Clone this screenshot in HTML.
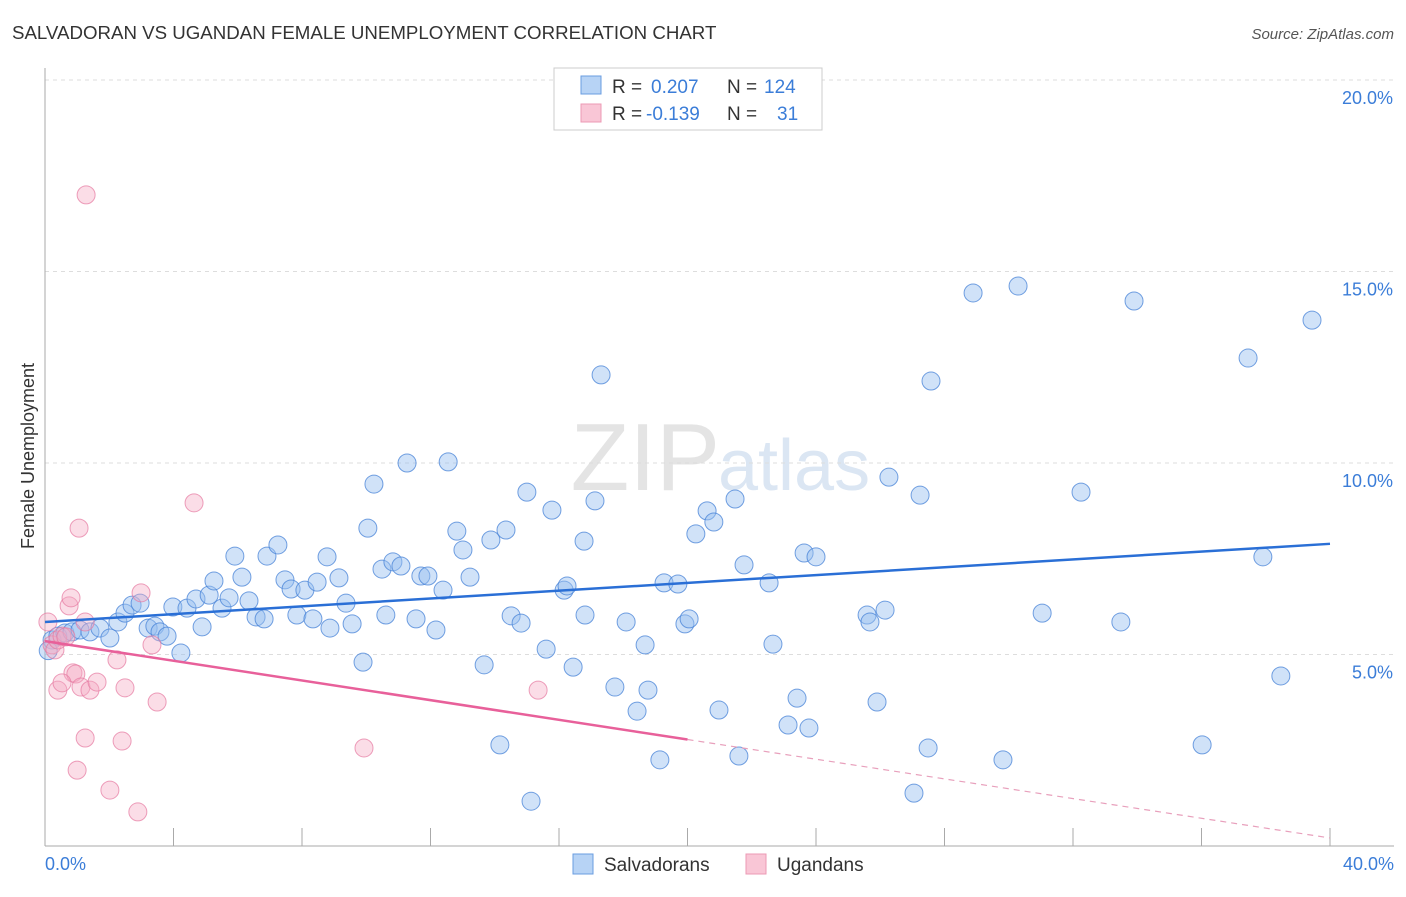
<!DOCTYPE html>
<html><head><meta charset="utf-8"><style>
body{margin:0;background:#fff;font-family:"Liberation Sans",sans-serif;}
svg text{font-family:"Liberation Sans",sans-serif;}
</style></head><body>
<svg id="c" width="1406" height="892" xmlns="http://www.w3.org/2000/svg">
<text x="12" y="39" font-size="18.7" fill="#333">SALVADORAN VS UGANDAN FEMALE UNEMPLOYMENT CORRELATION CHART</text>
<text x="1394" y="39" font-size="15" fill="#555" text-anchor="end" font-style="italic">Source: ZipAtlas.com</text>
<text x="720" y="490" font-size="96" fill="#e4e4e4" text-anchor="end" font-family="Liberation Serif">ZIP</text>
<text x="718" y="490" font-size="72" fill="#dbe6f3">atlas</text>
<g id="grid"></g><g id="axes"></g><g id="pts"></g><g id="lines"></g>
<text transform="translate(34,456) rotate(-90)" font-size="18" fill="#333" text-anchor="middle">Female Unemployment</text>
<text x="45" y="870" font-size="18" fill="#3b7dd8">0.0%</text>
<text x="1394" y="870" font-size="18" fill="#3b7dd8" text-anchor="end">40.0%</text>
<g>
<rect x="554" y="68" width="268" height="62" fill="#fff" stroke="#ccc"/>
<rect x="581" y="76" width="20" height="18" fill="#b7d3f5" stroke="#6a9de0"/>
<rect x="581" y="104" width="20" height="18" fill="#f9c6d6" stroke="#ec9ab4"/>
<text x="612" y="93" font-size="19" fill="#333">R = <tspan x="651" fill="#3b7dd8">0.207</tspan><tspan x="727">N = </tspan><tspan x="764" fill="#3b7dd8">124</tspan></text>
<text x="612" y="120" font-size="19" fill="#333">R = <tspan x="646" fill="#3b7dd8">-0.139</tspan><tspan x="727">N = </tspan><tspan x="777" fill="#3b7dd8">31</tspan></text>
</g>
<g><rect x="573" y="854" width="20" height="20" fill="#b7d3f5" stroke="#6a9de0"/><text x="604" y="871" font-size="19" fill="#333">Salvadorans</text></g>
<g><rect x="746" y="854" width="20" height="20" fill="#f9c6d6" stroke="#ec9ab4"/><text x="777" y="871" font-size="19" fill="#333">Ugandans</text></g>
</svg>
<script>
const blueX=[0.22,0.40,0.62,0.84,1.09,1.40,1.71,2.02,2.27,2.49,2.71,2.96,3.21,3.42,3.58,3.80,3.98,4.23,4.42,4.70,4.89,5.11,5.26,5.51,5.73,5.91,6.13,6.35,6.57,6.82,6.91,7.25,7.47,7.66,7.84,8.09,8.34,8.47,8.78,8.87,9.15,9.37,9.56,9.90,10.05,10.24,10.49,10.61,10.83,11.08,11.27,11.55,11.70,11.92,12.17,12.39,12.55,12.82,13.01,13.23,13.67,13.88,14.16,14.35,14.51,14.82,15.00,15.13,15.60,15.78,16.16,16.25,16.44,16.78,16.81,17.12,17.31,17.74,18.09,18.43,18.68,18.77,19.14,19.27,19.70,19.92,20.05,20.26,20.61,20.82,20.98,21.48,21.60,21.76,22.54,22.66,23.13,23.41,23.63,23.78,24.00,25.59,25.68,25.90,26.15,26.27,27.05,27.24,27.49,27.58,28.89,29.82,30.29,31.04,32.25,33.49,33.90,36.02,37.45,37.91,38.47,39.44,0.1];
const blueY=[5.38,5.48,5.56,5.59,5.64,5.59,5.69,5.43,5.85,6.08,6.29,6.34,5.69,5.74,5.59,5.48,6.24,5.04,6.21,6.45,5.72,6.55,6.92,6.21,6.48,7.57,7.02,6.40,5.98,5.93,7.57,7.86,6.95,6.71,6.03,6.68,5.93,6.89,7.55,5.69,7.00,6.34,5.80,4.80,8.30,9.45,7.23,6.03,7.42,7.31,10.00,5.93,7.05,7.05,5.64,6.68,10.03,8.22,7.73,7.02,4.73,7.99,2.64,8.25,6.01,5.82,9.24,1.17,5.14,8.77,6.68,6.79,4.67,7.96,6.03,9.01,12.30,4.15,5.85,3.52,5.25,4.07,2.25,6.87,6.84,5.80,5.93,8.15,8.75,8.46,3.55,9.06,2.35,7.34,6.87,5.27,3.16,3.86,7.65,3.08,7.55,6.03,5.85,3.76,6.16,9.63,1.38,9.16,2.56,12.14,14.44,2.25,14.62,6.08,9.24,5.85,14.23,2.64,12.74,7.55,4.44,13.73,5.1];
const pinkX=[0.09,0.22,0.31,0.40,0.53,0.65,0.75,0.81,0.87,0.96,1.06,1.12,1.25,1.28,0.40,0.53,1.00,1.40,1.62,2.02,2.24,2.40,2.49,2.89,2.99,3.33,3.49,4.64,9.93,15.35,1.25];
const pinkY=[5.85,5.25,5.12,5.38,5.48,5.46,6.27,6.48,4.52,4.49,8.30,4.15,2.82,17.00,4.07,4.26,1.98,4.07,4.28,1.46,4.86,2.74,4.13,0.89,6.61,5.25,3.76,8.96,2.56,4.07,5.85];
const blueTrend=[5.85,7.89];
const pinkTrend=[5.35,0.21];
const yTicks=[5,10,15,20];
const xTicks=[0,4,8,12,16,20,24,28,32,36,40];
const X=v=>45+v/40*1285, Y=v=>846-v*38.3;
const NS="http://www.w3.org/2000/svg";
function mk(t,a,p){const e=document.createElementNS(NS,t);for(const k in a)e.setAttribute(k,a[k]);document.getElementById(p).appendChild(e);return e;}
yTicks.forEach(t=>{
 const l=mk('line',{x1:45,x2:1394,y1:Y(t),y2:Y(t),stroke:'#ddd','stroke-dasharray':'4,4'},'grid');
 
 
 const tx=mk('text',{x:1393,y:Y(t)+24,'font-size':18,fill:'#3b7dd8','text-anchor':'end'},'grid');tx.textContent=t.toFixed(1)+'%';
 
 
});
mk('line',{x1:45,x2:45,y1:68,y2:846,stroke:'#aaa'},'axes');
mk('line',{x1:45,x2:1394,y1:846,y2:846,stroke:'#aaa'},'axes');
xTicks.forEach(t=>{const l=mk('line',{x1:X(t),x2:X(t),y1:828,y2:846,stroke:'#aaa'},'axes');
 
 });
function pts(xs,ys,fill,stroke,name){xs.forEach((x,i)=>{const c=mk('circle',{cx:X(x),cy:Y(ys[i]),r:9,fill:fill,stroke:stroke,'stroke-width':1},'pts');
 
 });}
pts(blueX,blueY,'rgba(150,190,240,0.45)','rgba(70,130,215,0.75)','salvadoran-point');
pts(pinkX,pinkY,'rgba(245,170,195,0.4)','rgba(230,120,160,0.7)','ugandan-point');
let bl=mk('line',{x1:X(0),y1:Y(blueTrend[0]),x2:X(40),y2:Y(blueTrend[1]),stroke:'#2a6fd6','stroke-width':2.5},'lines');


const pAt=x=>pinkTrend[0]+(pinkTrend[1]-pinkTrend[0])*x/40;
let pl=mk('line',{x1:X(0),y1:Y(pAt(0)),x2:X(20),y2:Y(pAt(20)),stroke:'#e8609a','stroke-width':2.5},'lines');


let pd=mk('line',{x1:X(20),y1:Y(pAt(20)),x2:X(40),y2:Y(pAt(40)),stroke:'#e8a0bc','stroke-width':1.2,'stroke-dasharray':'6,5'},'lines');


</script>
</body></html>
